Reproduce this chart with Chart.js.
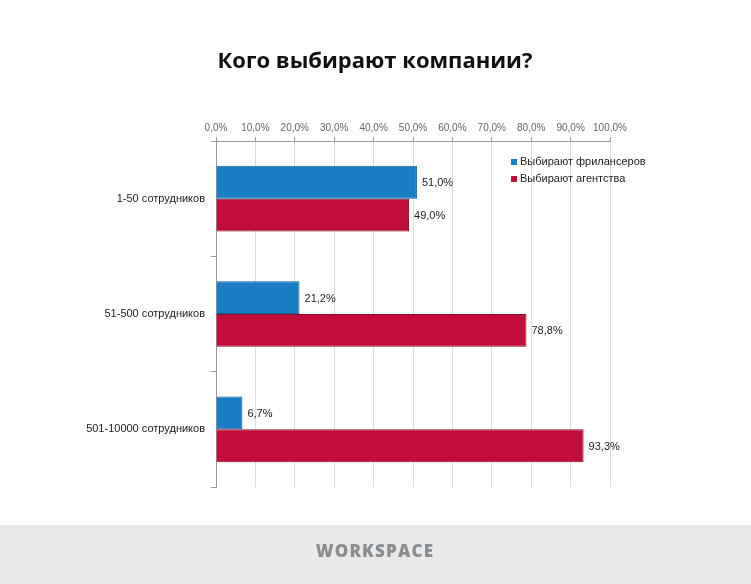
<!DOCTYPE html>
<html>
<head>
<meta charset="utf-8">
<script src="https://cdn.jsdelivr.net/npm/chart.js@4"></script>
<style>
  html, body { margin: 0; padding: 0; background: #fff; }
  #wrap { width: 751px; height: 584px; position: relative; }
</style>
</head>
<body>
<div id="wrap"><canvas id="chart" width="751" height="584"></canvas></div>
<script>
// Dati
const categories = ['1-50 сотрудников', '51-500 сотрудников', '501-10000 сотрудников'];
const freelancers = [51.0, 21.2, 6.7];
const agencies = [49.0, 78.8, 93.3];
const seriesNames = ['Выбирают фрилансеров', 'Выбирают агентства'];
const title = 'Кого выбирают компании?';
const footerText = 'WORKSPACE';

const fmt = function(v){ return v.toFixed(1).replace('.', ',') + '%'; };

// titolo, legenda, etichette, footer
const decor = {
    id: 'decor',
    beforeDraw: function(chart){
        const ctx = chart.ctx;
        ctx.save();
        ctx.fillStyle = '#fff';
        ctx.fillRect(0, 0, chart.width, chart.height);
        // footer
        ctx.fillStyle = '#e9e9e9';
        ctx.fillRect(0, 525, chart.width, chart.height - 525);
        ctx.fillStyle = '#8a8d90';
        ctx.font = '800 17px "Open Sans"';
        ctx.letterSpacing = '1.2px';
        ctx.textAlign = 'center';
        ctx.textBaseline = 'middle';
        ctx.fillText(footerText, 375, 552);
        ctx.letterSpacing = '0px';
        // titolo
        ctx.fillStyle = '#111';
        ctx.font = 'bold 22px "Open Sans"';
        ctx.fillText(title, 375, 62);
        ctx.restore();
    },
    afterDatasetsDraw: function(chart){
        const ctx = chart.ctx;
        ctx.save();
        ctx.font = '11px "Liberation Sans"';
        ctx.fillStyle = '#222';
        ctx.textAlign = 'left';
        ctx.textBaseline = 'middle';
        chart.data.datasets.forEach(function(ds, i){
            chart.getDatasetMeta(i).data.forEach(function(bar, j){
                ctx.fillText(fmt(ds.data[j]), bar.x + 5, bar.y + 1);
            });
        });
        // legenda
        chart.data.datasets.forEach(function(ds, i){
            const y = 162 + i * 17;
            ctx.fillStyle = ds.backgroundColor;
            ctx.fillRect(511, y - 3, 6, 6);
            ctx.fillStyle = '#222';
            ctx.fillText(ds.label, 520, y);
        });
        ctx.restore();
    }
};

const ctx = document.getElementById('chart').getContext('2d');
const chart = new Chart(ctx, {
    type: 'bar',
    data: {
        labels: categories,
        datasets: [{
            label: seriesNames[0],
            data: freelancers,
            backgroundColor: '#1b7dc3',
            borderColor: '#13609a',
            borderWidth: 1
        }, {
            label: seriesNames[1],
            data: agencies,
            backgroundColor: '#c20d3a',
            borderColor: '#8e0a2a',
            borderWidth: 1
        }]
    },
    options: {
        indexAxis: 'y',
        responsive: false,
        animation: false,
        layout: { padding: { left: 0, top: 0, right: 141, bottom: 97 } },
        datasets: { bar: { categoryPercentage: 0.57, barPercentage: 1.0 } },
        plugins: {
            legend: { display: false },
            tooltip: { enabled: false }
        },
        scales: {
            x: {
                position: 'top',
                min: 0,
                max: 100,
                afterFit: function(s){ s.height = 141; },
                ticks: {
                    stepSize: 10,
                    padding: 3,
                    color: '#666',
                    font: { family: 'Liberation Sans', size: 10 },
                    callback: function(v){ return fmt(v); },
                    maxRotation: 0
                },
                grid: { color: '#dcdcdc', tickColor: '#999', tickLength: 4 },
                border: { color: '#999' }
            },
            y: {
                afterFit: function(s){ s.width = 216; },
                ticks: {
                    padding: 6,
                    color: '#222',
                    font: { family: 'Liberation Sans', size: 11 }
                },
                grid: { offset: true, drawOnChartArea: false, tickColor: '#999', tickLength: 5 },
                border: { color: '#999' }
            }
        }
    },
    plugins: [decor]
});
</script>
</body>
</html>
